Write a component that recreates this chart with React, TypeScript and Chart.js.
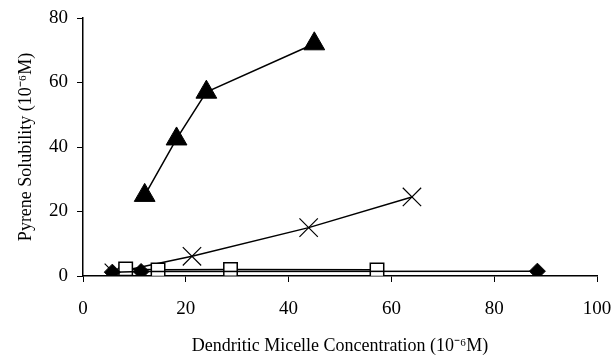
import React, { useEffect, useRef } from "react";
import { Chart, registerables } from "chart.js";

Chart.register(...registerables);

const diamondX = [5.7, 11.3, 88.4];
const diamondY = [1.2, 1.4, 1.5];
const squareX = [8.3, 14.6, 28.7, 57.2];
const squareY = [2.2, 1.9, 2.0, 1.9];
const triangleX = [12.0, 18.2, 24.0, 45.0];
const triangleY = [25.0, 42.5, 57.0, 72.0];
const crossX = [6.0, 21.2, 43.9, 64.0];
const crossY = [1.0, 6.1, 15.0, 24.5];

const xTitle = "Dendritic Micelle Concentration (10\u207B\u2076M)";
const yTitle = "Pyrene Solubility (10\u207B\u2076M)";

const pts = (xs: number[], ys: number[]) => xs.map((x, i) => ({ x, y: ys[i] }));

export default function App() {
  const ref = useRef<HTMLCanvasElement | null>(null);
  useEffect(() => {
    if (!ref.current) return;
    const family = "'Liberation Serif', 'Times New Roman', serif";
    const tickFont = { family, size: 19 };
    const titleFont = { family, size: 18 };
    const base = { borderColor: "#000", borderWidth: 1.5, showLine: true, tension: 0 };
    const chart = new Chart(ref.current, {
      type: "scatter",
      data: {
        datasets: [
          { ...base, label: "diamond", data: pts(diamondX, diamondY), pointStyle: "rectRot", pointRadius: 8, backgroundColor: "#000", pointBorderWidth: 1 },
          { ...base, label: "square", data: pts(squareX, squareY), pointStyle: "rect", pointRadius: 9.5, backgroundColor: "#fff", pointBorderWidth: 1.5 },
          { ...base, label: "triangle", data: pts(triangleX, triangleY), pointStyle: "triangle", pointRadius: 12, backgroundColor: "#000", pointBorderWidth: 1 },
          { ...base, label: "cross", data: pts(crossX, crossY), pointStyle: "crossRot", pointRadius: 13, backgroundColor: "#000", pointBorderWidth: 1.2 },
        ],
      },
      options: {
        animation: false,
        responsive: false,
        maintainAspectRatio: false,
        layout: { padding: { top: 18, right: 18, left: 0, bottom: 0 } },
        plugins: { legend: { display: false }, tooltip: { enabled: false } },
        scales: {
          x: {
            type: "linear",
            min: 0,
            max: 100,
            ticks: { stepSize: 20, color: "#000", font: tickFont, padding: 16, maxRotation: 0 },
            grid: { display: true, drawOnChartArea: false, drawTicks: true, tickLength: 6, color: "#000" },
            border: { color: "#000", width: 1.5 },
            title: { display: true, text: xTitle, color: "#000", font: titleFont, padding: { top: 0, bottom: 1 } },
            afterFit: (s: any) => { s.height = 82; s.paddingLeft = 0; s.paddingRight = 0; },
          },
          y: {
            type: "linear",
            min: 0,
            max: 80,
            ticks: { stepSize: 20, color: "#000", font: tickFont, padding: 9 },
            grid: { display: true, drawOnChartArea: false, drawTicks: true, tickLength: 6, color: "#000" },
            border: { color: "#000", width: 1.5 },
            title: { display: true, text: yTitle, color: "#000", font: titleFont, padding: { top: 15, bottom: 0 } },
            afterFit: (s: any) => { s.width = 83; s.paddingTop = 0; s.paddingBottom = 0; },
          },
        },
      },
    } as any);
    return () => chart.destroy();
  }, []);
  return (
    <div style={{ position: "fixed", left: 0, top: 0, width: 615, height: 358, background: "#fff" }}>
      <canvas ref={ref} width={615} height={358} style={{ width: 615, height: 358 }} />
    </div>
  );
}
